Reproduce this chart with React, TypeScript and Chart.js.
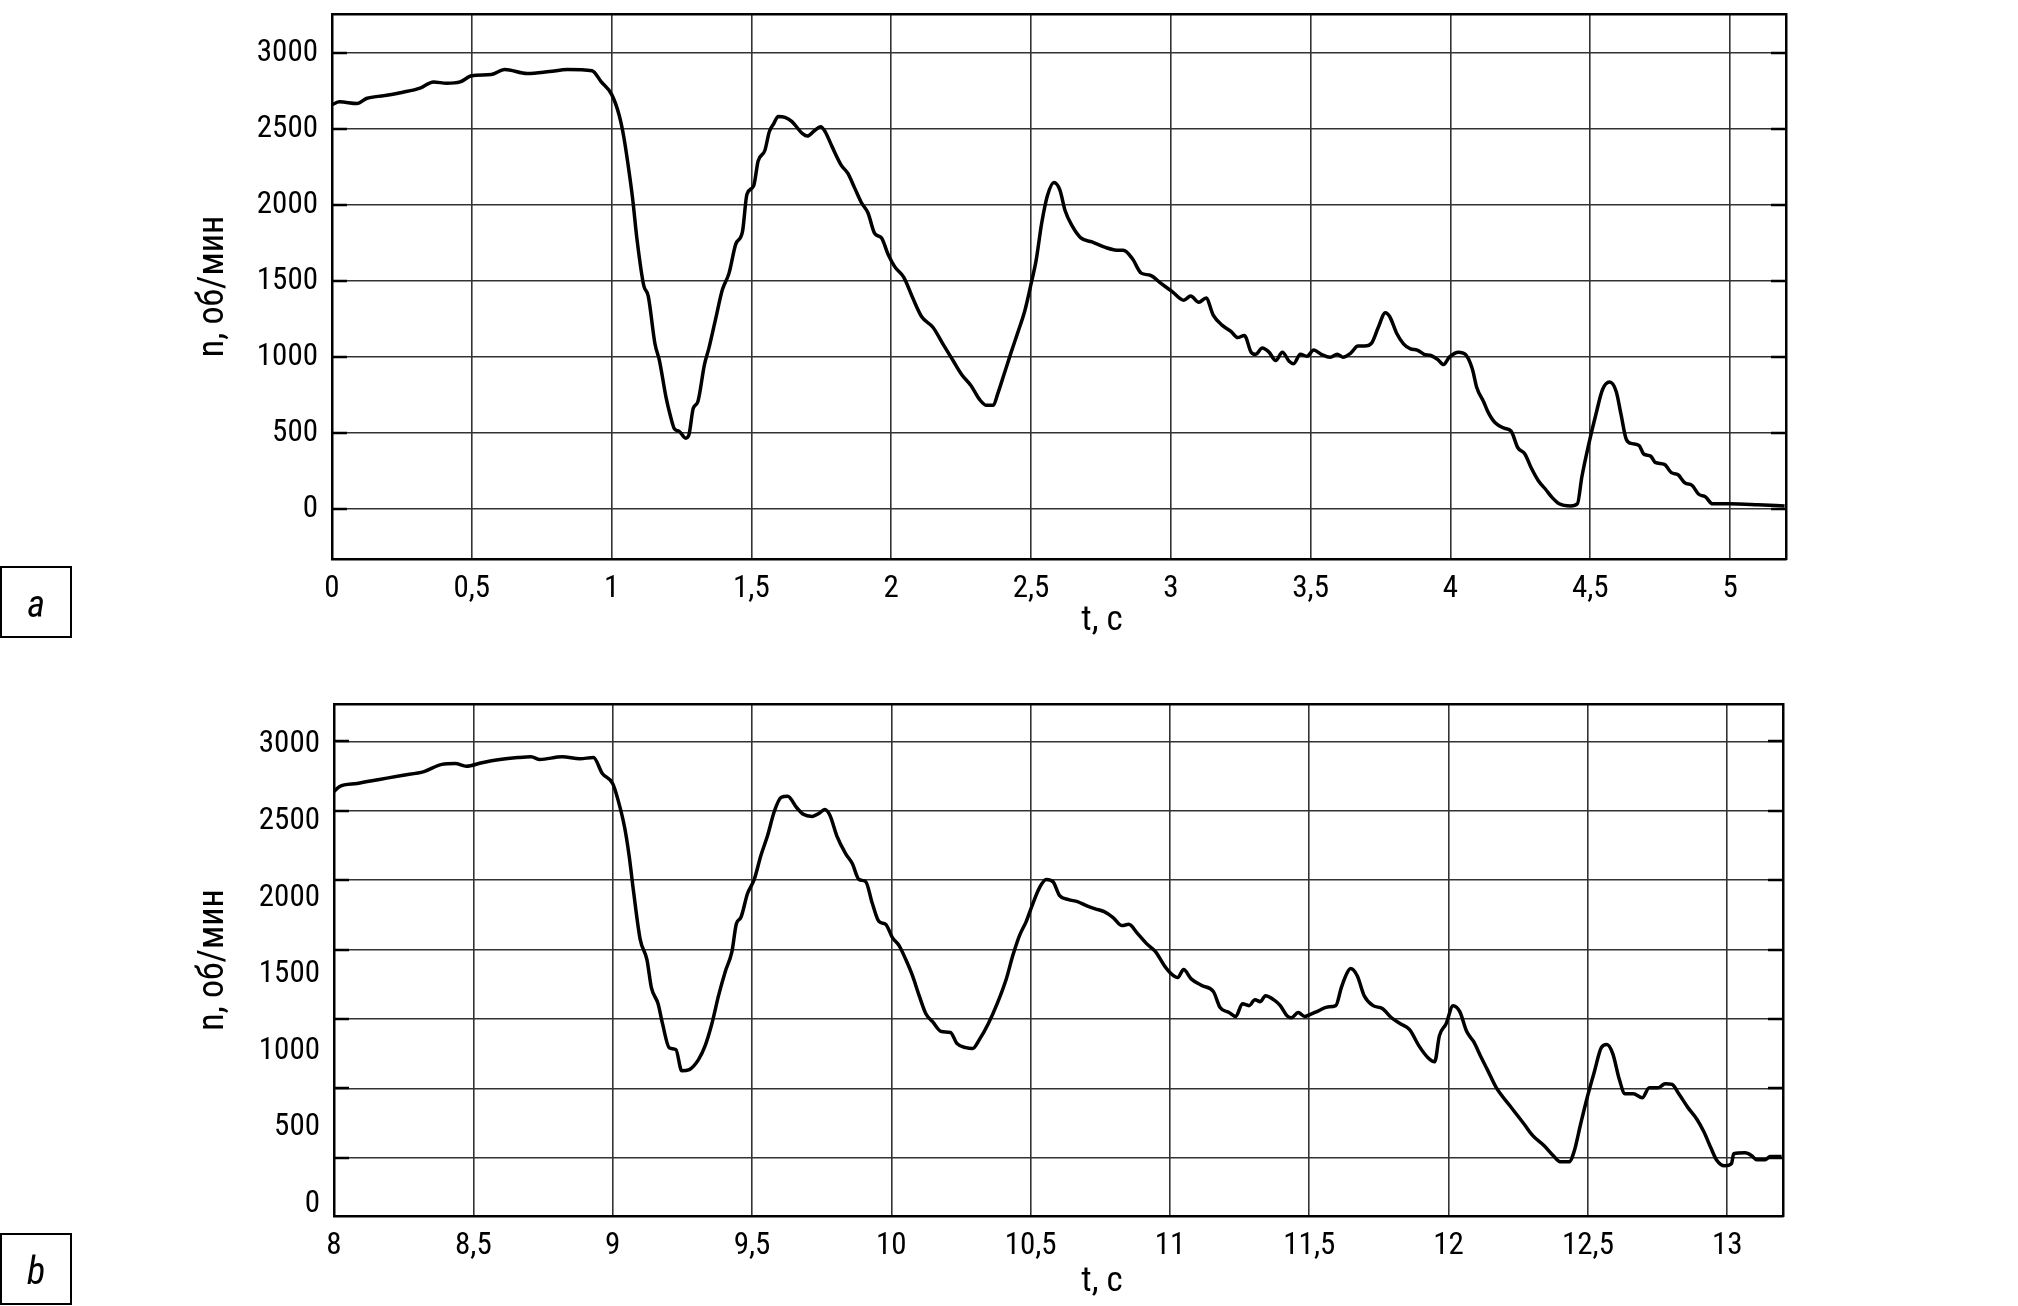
import React, { useEffect, useRef } from 'react';
import { Chart, registerables } from 'chart.js';

Chart.register(...registerables);

const FONT = '"Liberation Sans Narrow", "Arial Narrow", "Roboto Condensed", "DejaVu Sans Condensed", sans-serif';

// ---- panel a: time (s) and speed (rpm)
const timeA = [
  0, 0.027, 0.09, 0.123, 0.187, 0.25, 0.315, 0.363, 0.41, 0.458,
  0.5, 0.57, 0.618, 0.698, 0.778, 0.842, 0.93, 0.963, 1.0, 1.027,
  1.043, 1.059, 1.075, 1.091, 1.115, 1.131, 1.155, 1.171, 1.195, 1.209,
  1.225, 1.241, 1.265, 1.276, 1.292, 1.308, 1.332, 1.348, 1.372, 1.396,
  1.42, 1.444, 1.468, 1.484, 1.508, 1.524, 1.548, 1.564, 1.58, 1.596,
  1.62, 1.644, 1.684, 1.7, 1.724, 1.748, 1.764, 1.788, 1.821, 1.845,
  1.869, 1.893, 1.917, 1.941, 1.965, 1.989, 2.013, 2.045, 2.077, 2.109,
  2.149, 2.189, 2.221, 2.253, 2.285, 2.317, 2.341, 2.365, 2.381, 2.405,
  2.429, 2.454, 2.478, 2.502, 2.518, 2.538, 2.558, 2.582, 2.603, 2.622,
  2.646, 2.678, 2.718, 2.766, 2.814, 2.83, 2.862, 2.894, 2.926, 2.966,
  3.006, 3.046, 3.071, 3.1, 3.126, 3.151, 3.183, 3.215, 3.239, 3.263,
  3.287, 3.303, 3.327, 3.351, 3.375, 3.399, 3.423, 3.439, 3.463, 3.487,
  3.511, 3.538, 3.57, 3.595, 3.615, 3.644, 3.669, 3.693, 3.718, 3.742,
  3.767, 3.783, 3.808, 3.832, 3.857, 3.881, 3.906, 3.93, 3.955, 3.975,
  3.996, 4.029, 4.053, 4.078, 4.094, 4.119, 4.135, 4.16, 4.192, 4.217,
  4.241, 4.266, 4.29, 4.315, 4.34, 4.364, 4.389, 4.43, 4.454, 4.47,
  4.495, 4.52, 4.544, 4.569, 4.593, 4.61, 4.629, 4.65, 4.675, 4.691,
  4.716, 4.732, 4.765, 4.79, 4.814, 4.839, 4.863, 4.888, 4.912, 4.937,
  5.0, 5.1, 5.195,
];
const speedA = [
  2660, 2678, 2667, 2700, 2719, 2740, 2768, 2809, 2800, 2809,
  2850, 2858, 2891, 2864, 2877, 2891, 2883, 2809, 2727, 2590,
  2453, 2262, 2043, 1770, 1469, 1400, 1086, 976, 730, 621,
  525, 511, 465, 484, 662, 703, 949, 1058, 1250, 1441,
  1551, 1742, 1824, 2070, 2125, 2289, 2358, 2481, 2535, 2582,
  2576, 2549, 2467, 2453, 2486, 2514, 2481, 2385, 2262, 2207,
  2112, 2016, 1947, 1811, 1783, 1674, 1592, 1523, 1387, 1264,
  1195, 1072, 976, 881, 812, 717, 681, 681, 758, 894,
  1031, 1168, 1305, 1496, 1633, 1879, 2057, 2147, 2098, 1961,
  1865, 1783, 1756, 1720, 1701, 1701, 1647, 1551, 1537, 1482,
  1428, 1373, 1400, 1359, 1387, 1277, 1209, 1168, 1127, 1141,
  1031, 1017, 1058, 1031, 976, 1031, 971, 955, 1017, 1004,
  1045, 1017, 998, 1017, 998, 1026, 1072, 1072, 1091, 1195,
  1291, 1264, 1154, 1086, 1053, 1045, 1017, 1009, 982, 949,
  998, 1031, 1017, 922, 799, 703, 635, 566, 531, 511,
  402, 361, 265, 183, 129, 74, 33, 19, 33, 211,
  429, 621, 785, 834, 771, 621, 457, 429, 416, 361,
  347, 306, 293, 238, 224, 170, 156, 96, 79, 33,
  33, 27, 19,
];

// ---- panel b
const timeB = [
  8.0, 8.019, 8.083, 8.163, 8.243, 8.323, 8.387, 8.435, 8.475, 8.531,
  8.595, 8.659, 8.707, 8.739, 8.819, 8.883, 8.931, 8.963, 9.0, 9.019,
  9.043, 9.059, 9.075, 9.099, 9.123, 9.139, 9.163, 9.179, 9.203, 9.227,
  9.248, 9.275, 9.308, 9.332, 9.356, 9.38, 9.404, 9.428, 9.444, 9.46,
  9.484, 9.508, 9.532, 9.556, 9.58, 9.604, 9.628, 9.66, 9.684, 9.716,
  9.74, 9.761, 9.78, 9.804, 9.836, 9.86, 9.884, 9.908, 9.932, 9.956,
  9.98, 10.004, 10.028, 10.052, 10.076, 10.1, 10.124, 10.148, 10.18, 10.212,
  10.236, 10.268, 10.292, 10.316, 10.348, 10.38, 10.412, 10.436, 10.46, 10.484,
  10.508, 10.532, 10.556, 10.58, 10.604, 10.636, 10.668, 10.7, 10.732, 10.764,
  10.796, 10.828, 10.852, 10.884, 10.916, 10.948, 10.98, 11.004, 11.028, 11.049,
  11.076, 11.116, 11.156, 11.18, 11.212, 11.236, 11.26, 11.284, 11.305, 11.324,
  11.343, 11.372, 11.396, 11.42, 11.436, 11.46, 11.484, 11.5, 11.533, 11.566,
  11.595, 11.615, 11.631, 11.648, 11.672, 11.697, 11.729, 11.762, 11.795, 11.827,
  11.86, 11.893, 11.926, 11.95, 11.967, 11.991, 12.016, 12.04, 12.065, 12.09,
  12.114, 12.139, 12.171, 12.22, 12.27, 12.302, 12.343, 12.376, 12.4, 12.433,
  12.45, 12.474, 12.499, 12.523, 12.548, 12.568, 12.589, 12.613, 12.633, 12.663,
  12.695, 12.72, 12.753, 12.777, 12.802, 12.826, 12.859, 12.892, 12.916, 12.941,
  12.961, 12.99, 13.015, 13.023, 13.064, 13.088, 13.105, 13.137, 13.154, 13.195,
];
const speedB = [
  2639, 2674, 2697, 2726, 2755, 2783, 2835, 2841, 2821, 2847,
  2870, 2884, 2890, 2870, 2890, 2876, 2884, 2769, 2697, 2581,
  2380, 2178, 1918, 1572, 1428, 1226, 1110, 966, 793, 779,
  626, 635, 707, 808, 966, 1168, 1341, 1485, 1687, 1731,
  1904, 2005, 2178, 2322, 2495, 2596, 2605, 2524, 2475, 2460,
  2481, 2509, 2466, 2322, 2192, 2120, 2005, 1990, 1832, 1702,
  1682, 1586, 1529, 1428, 1312, 1168, 1038, 981, 909, 903,
  822, 793, 787, 851, 966, 1110, 1284, 1457, 1601, 1702,
  1832, 1947, 2005, 1990, 1889, 1860, 1846, 1817, 1794, 1774,
  1731, 1673, 1682, 1615, 1543, 1485, 1384, 1327, 1298, 1356,
  1289, 1240, 1197, 1082, 1047, 1018, 1110, 1096, 1139, 1125,
  1168, 1139, 1096, 1024, 1009, 1047, 1018, 1030, 1059, 1087,
  1096, 1226, 1312, 1364, 1312, 1168, 1096, 1076, 1009, 966,
  923, 808, 721, 692, 880, 966, 1096, 1053, 909, 836,
  735, 635, 505, 375, 245, 159, 87, 14, -29, -29,
  43, 245, 447, 620, 793, 816, 750, 562, 461, 461,
  433, 505, 505, 534, 528, 461, 361, 274, 187, 72,
  -14, -58, -43, 29, 35, 14, -14, -14, 9, 9,
];

const speedTicks = [0, 500, 1000, 1500, 2000, 2500, 3000];
const timeTicksA = [0, 0.5, 1, 1.5, 2, 2.5, 3, 3.5, 4, 4.5, 5];
const timeTicksB = [8, 8.5, 9, 9.5, 10, 10.5, 11, 11.5, 12, 12.5, 13];
const yTitle = 'n, об/мин';
const xTitle = 't, c';
const panelLetters = ['a', 'b'];

const fmtTime = (v: number) => String(Math.round(v * 10) / 10).replace('.', ',');
const fmtSpeed = (v: number) => String(Math.round(v));

type Box = { left: number; right: number; top: number; bottom: number };
type PanelProps = {
  times: number[];
  speeds: number[];
  timeTicks: number[];
  xRange: [number, number];
  yRange: [number, number];
  labelRange?: [number, number];
  box: Box;
  width: number;
  height: number;
  offsetTop: number;
};

const innerTicks = {
  id: 'innerTicks',
  afterDraw(chart: any) {
    const { ctx, chartArea: a } = chart;
    const y = chart.scales.y;
    ctx.save();
    ctx.strokeStyle = '#000';
    ctx.lineWidth = 2.5;
    y.ticks.forEach((t: any) => {
      const py = Math.round(y.getPixelForValue(t.value));
      ctx.beginPath();
      ctx.moveTo(a.left, py);
      ctx.lineTo(a.left + 15, py);
      ctx.moveTo(a.right - 15, py);
      ctx.lineTo(a.right, py);
      ctx.stroke();
    });
    ctx.restore();
  },
};

function Panel(props: PanelProps) {
  const ref = useRef<HTMLCanvasElement>(null);
  useEffect(() => {
    const canvas = ref.current!;
    const { times, speeds, timeTicks, xRange, yRange, labelRange, box, width, height } = props;
    const n = Math.min(times.length, speeds.length);
    const pts: { x: number; y: number }[] = [];
    for (let i = 0; i < n; i++) pts.push({ x: times[i], y: speeds[i] });

    const tickFont = { family: FONT, size: 31 };
    const grid = { color: '#333', lineWidth: 1.6, drawTicks: false };
    const border = { color: '#000', width: 2.5 };
    const title = {
      display: true,
      text: yTitle,
      color: '#000',
      font: { family: FONT, size: 36 },
      padding: { top: 214 - 21.6, bottom: 0 },
    };
    const zeroPad = (s: any) => {
      s.paddingTop = 0; s.paddingBottom = 0; s.paddingLeft = 0; s.paddingRight = 0;
    };
    const setTicks = (vals: number[]) => (s: any) => {
      s.ticks = vals.map((v) => ({ value: v }));
    };

    const scales: any = {
      x: {
        type: 'linear',
        position: 'bottom',
        min: xRange[0],
        max: xRange[1],
        afterBuildTicks: setTicks(timeTicks),
        ticks: {
          autoSkip: false,
          maxRotation: 0,
          callback: (v: any) => fmtTime(Number(v)),
          font: tickFont,
          color: '#000',
          padding: 12,
        },
        grid,
        border,
        afterFit: (s: any) => { s.height = height - box.bottom; zeroPad(s); },
      },
      xTop: {
        type: 'linear',
        position: 'top',
        ticks: { display: false },
        grid: { display: false, drawTicks: false },
        border,
        afterFit: (s: any) => { s.height = 0; zeroPad(s); },
      },
      y: {
        type: 'linear',
        position: 'left',
        weight: 0,
        min: yRange[0],
        max: yRange[1],
        afterBuildTicks: setTicks(speedTicks),
        ticks: {
          display: !labelRange,
          autoSkip: false,
          callback: (v: any) => fmtSpeed(Number(v)),
          font: tickFont,
          color: '#000',
          padding: 14,
        },
        grid,
        border,
        title: labelRange ? { display: false } : title,
        afterFit: (s: any) => { s.width = labelRange ? 0 : box.left; zeroPad(s); },
      },
      yRight: {
        type: 'linear',
        position: 'right',
        ticks: { display: false },
        grid: { display: false, drawTicks: false },
        border,
        afterFit: (s: any) => { s.width = 0; zeroPad(s); },
      },
    };
    if (labelRange) {
      scales.yLabels = {
        type: 'linear',
        position: 'left',
        weight: 1,
        min: labelRange[0],
        max: labelRange[1],
        afterBuildTicks: setTicks(speedTicks),
        ticks: {
          autoSkip: false,
          callback: (v: any) => fmtSpeed(Number(v)),
          font: tickFont,
          color: '#000',
          padding: 14,
        },
        grid: { display: false, drawTicks: false },
        border: { display: false },
        title,
        afterFit: (s: any) => { s.width = box.left; zeroPad(s); },
      };
    }

    const chart = new Chart(canvas, {
      type: 'line',
      data: {
        datasets: [
          {
            data: pts,
            borderColor: '#000',
            borderWidth: 3.5,
            pointRadius: 0,
            fill: false,
            cubicInterpolationMode: 'monotone',
          } as any,
        ],
      },
      options: {
        animation: false,
        responsive: false,
        devicePixelRatio: 1,
        layout: {
          autoPadding: false,
          padding: { left: 0, top: box.top, right: width - box.right, bottom: 0 },
        } as any,
        plugins: { legend: { display: false }, tooltip: { enabled: false } },
        scales,
      },
      plugins: [innerTicks],
    });
    return () => chart.destroy();
  }, []);
  return (
    <canvas
      ref={ref}
      width={props.width}
      height={props.height}
      style={{ position: 'absolute', left: 0, top: props.offsetTop, width: props.width, height: props.height }}
    />
  );
}

const letterBox = (top: number, letter: string) => (
  <div
    style={{
      position: 'absolute', left: 0, top, width: 68, height: 68,
      border: '2px solid #000', display: 'flex', alignItems: 'center', justifyContent: 'center',
      fontFamily: FONT, fontStyle: 'italic', fontSize: 38, color: '#000', lineHeight: 1,
    }}
  >
    <span style={{ marginTop: 4 }}>{letter}</span>
  </div>
);

const axisTitle = (top: number) => (
  <div
    style={{
      position: 'absolute', left: 1102, top, transform: 'translate(-50%, -50%)',
      fontFamily: FONT, fontSize: 35, color: '#000', whiteSpace: 'nowrap', lineHeight: 1,
    }}
  >
    {xTitle}
  </div>
);

export default function App() {
  return (
    <div style={{ position: 'absolute', left: 0, top: 0, width: 2018, height: 1306, background: '#fff', overflow: 'hidden' }}>
      <Panel
        times={timeA}
        speeds={speedA}
        timeTicks={timeTicksA}
        xRange={[0, 5.2]}
        yRange={[-330, 3256]}
        box={{ left: 332, right: 1786, top: 14, bottom: 559 }}
        width={2018}
        height={650}
        offsetTop={0}
      />
      <Panel
        times={timeB}
        speeds={speedB}
        timeTicks={timeTicksB}
        xRange={[8, 13.2]}
        yRange={[-420, 3270]}
        labelRange={[-78, 3266]}
        box={{ left: 334, right: 1783, top: 54, bottom: 566 }}
        width={2018}
        height={656}
        offsetTop={650}
      />
      {axisTitle(618)}
      {axisTitle(1279)}
      {letterBox(566, panelLetters[0])}
      {letterBox(1233, panelLetters[1])}
    </div>
  );
}
